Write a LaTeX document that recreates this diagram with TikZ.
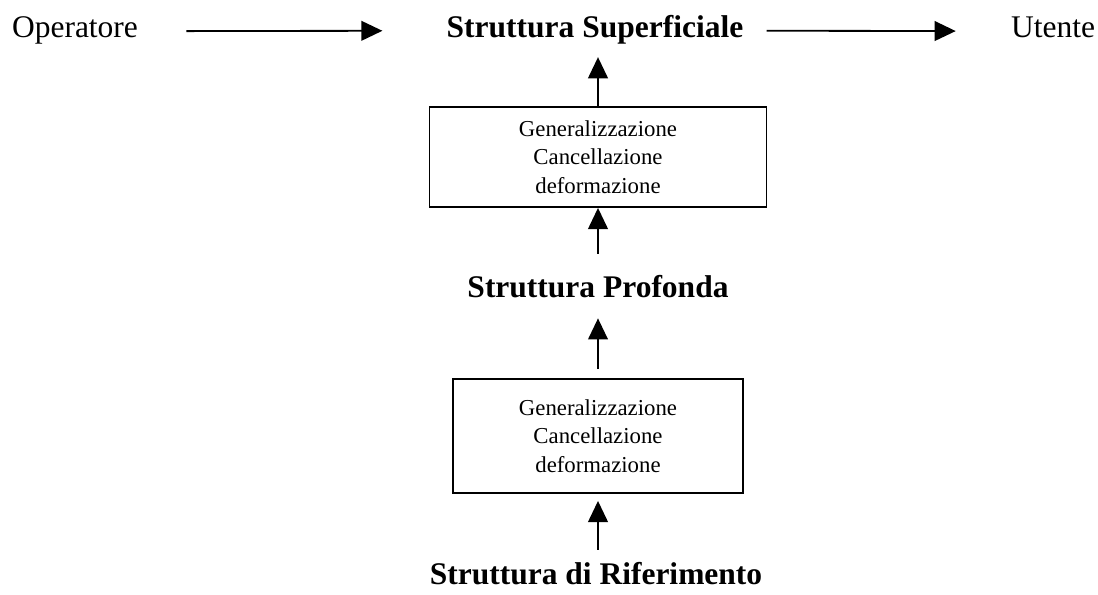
\documentclass[tikz,border=0pt]{standalone}
\usepackage{fontspec}
\setmainfont{Liberation Serif}
\usetikzlibrary{arrows, arrows.meta}
\usetikzlibrary{positioning}

\begin{document}
\begin{tikzpicture}[x=0.025cm, y=-0.025cm,
  wordnode/.style={inner sep=0pt, text height=14.6pt, text depth=5.6pt, anchor=base, font=\fontsize{22.4}{27}\selectfont},
  headnode/.style={wordnode, font=\fontsize{22.4}{27}\selectfont\bfseries},
  rulebox/.style={draw, line width=1.3pt, align=center, inner sep=0pt, font=\fontsize{16.2}{20.3}\selectfont},
  flowarrow/.style={-{Triangle[length=15pt,width=14pt]}, line width=1.3pt}]
\useasboundingbox (0,0) rectangle (1098,594);

\node[wordnode] (op) at (75,37.5) {Operatore};
\node[headnode] (sup) at (595,37) {Struttura Superficiale};
\node[wordnode] (ut) at (1053,37.5) {Utente};

\node[rulebox, minimum width=8.425cm, minimum height=2.5cm] (gen1) at (598,157) {Generalizzazione\\Cancellazione\\deformazione};
\node[headnode] (prof) at (598,297) {Struttura Profonda};
\node[rulebox, minimum width=7.25cm, minimum height=2.85cm] (gen2) at (598,436) {Generalizzazione\\Cancellazione\\deformazione};
\node[headnode] (rif) at (596,584) {Struttura di Riferimento};

\draw[flowarrow, shorten <=1.2cm, shorten >=1.6cm] (op.east) -- (sup.west);
\draw[flowarrow, shorten <=0.575cm, shorten >=1.375cm] (sup.east) -- (ut.west);

\draw[flowarrow, shorten >=0.3cm] (gen1.north) -- (gen1.north |- sup.south);
\draw[flowarrow, shorten <=0.5625cm] (gen1.south |- prof.north) -- (gen1.south);
\draw[flowarrow, shorten <=0.225cm, shorten >=0.33cm] (gen2.north) -- (gen2.north |- prof.south);
\draw[flowarrow, shorten <=0.34cm, shorten >=0.175cm] (gen2.south |- rif.north) -- (gen2.south);

\end{tikzpicture}
\end{document}
